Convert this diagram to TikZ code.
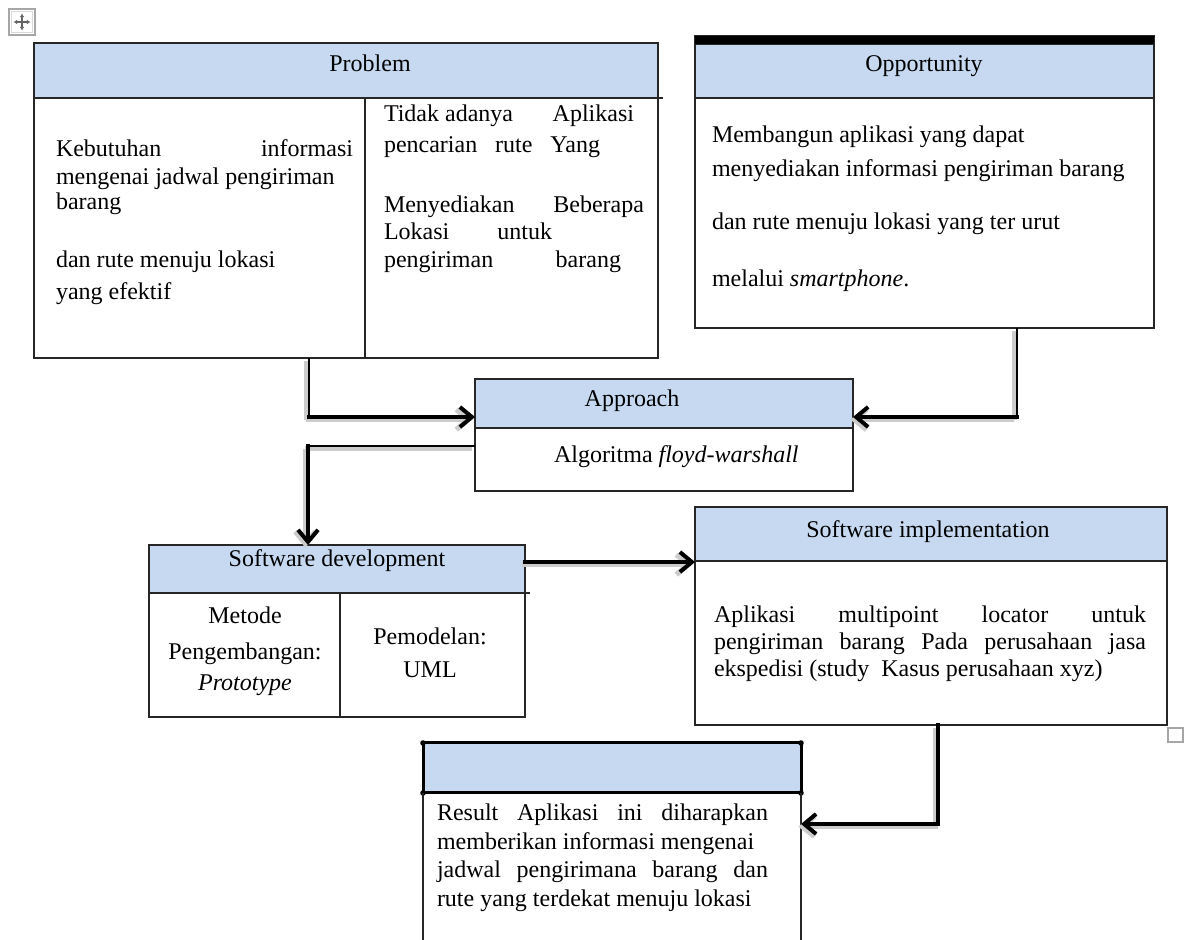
\documentclass[tikz,border=0pt]{standalone}
\usepackage{fontspec}
\setmainfont{Liberation Serif}
\usetikzlibrary{arrows.meta}
\definecolor{hdrblue}{RGB}{198,217,240}
\newcommand\pbox[6]{\node[#6, minimum width={(#4-#2)*0.5pt}, minimum height={(#5-#3)*0.5pt}] (#1) at ({(#2+#4)/2},{(#3+#5)/2}) {};}
\newcommand\jl[2]{\makebox[#1pt][s]{#2}}
\begin{document}
\begin{tikzpicture}[x=0.5pt,y=-0.5pt,
  every node/.style={inner sep=0pt, outer sep=0pt, font=\fontsize{12}{14}\selectfont},
  frame/.style={draw=black!85, line width=0.75pt, rectangle},
  hdr/.style={draw=black!85, line width=0.75pt, fill=hdrblue, rectangle},
  txt/.style={anchor=mid west},
  ctxt/.style={anchor=mid},
  ln/.style={draw=black!85, line width=0.75pt},
  thinln/.style={draw=black, line width=1pt},
  arr/.style={draw=black, line width=2pt, line cap=rect, -{Straight Barb[length=6pt,width=10pt]}},
  shad/.style={draw=black!20, line width=2.6pt, transform canvas={xshift=-1.3pt,yshift=-1.3pt}},
  shadarr/.style={shad, -{Straight Barb[length=6pt,width=10pt]}}]
\fill[white] (0,0) rectangle (1184,940);
\useasboundingbox (0,0) rectangle (1184,940);

% table handles
\pbox{mv}{9}{9}{35}{35}{draw=black!35, line width=0.8pt}
\draw[black!15, line width=0.6pt] ([xshift=1.2pt,yshift=-1.2pt]mv.north west) rectangle ([xshift=-1.2pt,yshift=1.2pt]mv.south east);
\draw[black!60, line width=0.6pt, {Latex[length=1.8pt,width=2.4pt]}-{Latex[length=1.8pt,width=2.4pt]}] ([xshift=-4.2pt]mv.center) -- ([xshift=4.2pt]mv.center);
\draw[black!60, line width=0.6pt, {Latex[length=1.8pt,width=2.4pt]}-{Latex[length=1.8pt,width=2.4pt]}] ([yshift=-4.2pt]mv.center) -- ([yshift=4.2pt]mv.center);
\pbox{rs}{1168}{728}{1183}{742}{draw=black!35, line width=0.6pt}

% Problem
\pbox{probh}{34}{43}{658}{98}{hdr}
\pbox{prob}{34}{43}{658}{358}{frame}
\coordinate (pdiv) at (365,0);
\draw[ln] (probh.south -| pdiv) -- (prob.south -| pdiv);
\draw[ln] (probh.south east) -- ++(5,0);
\node[ctxt] (tp) at (370,67) {Problem};
\node[txt] (pl1) at (56,152) {\jl{148.5}{Kebutuhan informasi}};
\node[txt] (pl2) at (56,180) {mengenai jadwal pengiriman};
\node[txt] (pl3) at (56,205) {barang};
\node[txt] (pl4) at (56,263) {dan rute menuju lokasi};
\node[txt] (pl5) at (56,295) {yang efektif};
\node[txt] (pr1) at (384,117) {\jl{125}{Tidak adanya\hfill Aplikasi}};
\node[txt] (pr2) at (384,148) {\jl{108}{pencarian rute Yang}};
\node[txt] (pr3) at (384,208) {\jl{130}{Menyediakan Beberapa}};
\node[txt] (pr4) at (384,235) {\jl{84}{Lokasi untuk}};
\node[txt] (pr5) at (384,263) {\jl{118.5}{pengiriman barang}};

% Opportunity
\pbox{opph}{695}{44}{1154}{98}{hdr}
\pbox{opp}{695}{36}{1154}{328}{frame}
\pbox{oppbar}{695}{36}{1154}{44}{fill=black}
\node[ctxt] (to) at (924,67) {Opportunity};
\node[txt] (o1) at (712,138) {Membangun aplikasi yang dapat};
\node[txt] (o2) at (712,172) {menyediakan informasi pengiriman barang};
\node[txt] (o3) at (712,225) {dan rute menuju lokasi yang ter urut};
\node[txt] (o4) at (712,282) {melalui \textit{smartphone}.};

% Approach
\pbox{apph}{475}{379}{853}{428}{hdr}
\pbox{app}{475}{379}{853}{491}{frame}
\node[ctxt] (ta) at (632,402) {Approach};
\node[txt] (ta2) at (554,458) {Algoritma \textit{floyd-warshall}};

% Software development
\pbox{sdh}{149}{545}{525}{593}{hdr}
\pbox{sd}{149}{545}{525}{717}{frame}
\coordinate (sdiv) at (340,0);
\draw[ln] (sdh.south -| sdiv) -- (sd.south -| sdiv);
\draw[ln] (sdh.south east) -- ++(5,0);
\node[ctxt] (tsd) at (337,562) {Software development};
\node[ctxt] (sd1) at (245,619) {Metode};
\node[ctxt] (sd2) at (245,655) {Pengembangan:};
\node[ctxt] (sd3) at (245,686) {\textit{Prototype}};
\node[ctxt] (sd4) at (430,640) {Pemodelan:};
\node[ctxt] (sd5) at (430,673) {UML};

% Software implementation
\pbox{sih}{695}{507}{1167}{561}{hdr}
\pbox{si}{695}{507}{1167}{725}{frame}
\node[ctxt] (tsi) at (928,533) {Software implementation};
\node[txt] (si1) at (714,618) {\jl{216}{Aplikasi multipoint locator untuk}};
\node[txt] (si2) at (714,645) {\jl{216}{pengiriman barang Pada perusahaan jasa}};
\node[txt] (si3) at (714,672) {ekspedisi (study\ \ Kasus perusahaan xyz)};

% Result
\pbox{res}{423}{743}{801}{940}{}
\pbox{resh}{423}{743}{801}{793}{hdr, draw=black, line width=1.5pt}
\foreach \a in {north west,north east,south west,south east}
  \fill (resh.\a) circle[radius=1.4pt];
\draw[ln] (resh.south west) -- (res.south west);
\draw[ln] (resh.south east) -- (res.south east);
\node[txt] (r1) at (437,816) {\jl{165.5}{Result Aplikasi ini diharapkan}};
\node[txt] (r2) at (437,845) {memberikan informasi mengenai};
\node[txt] (r3) at (437,873) {\jl{165.5}{jadwal pengirimana barang dan}};
\node[txt] (r4) at (437,902) {rute yang terdekat menuju lokasi};

% connectors
\coordinate (k1) at (309,417);
\coordinate (k2) at (1017,417);
\coordinate (k3) at (308,446);
\coordinate (k4) at (0,562);
\coordinate (k5) at (938,824);
% shadows
\draw[shad] (prob.south -| k1) -- (k1);
\draw[shadarr] (k1) -- (app.west |- k1);
\draw[shad] (opp.south -| k2) -- (k2);
\draw[shadarr] (k2) -- (app.east |- k2);
\draw[shad] (app.west |- k3) -- (k3);
\draw[shadarr] (k3) -- (sd.north -| k3);
\draw[shadarr] (sd.east |- k4) -- (si.west |- k4);
\draw[shadarr] (si.south -| k5) |- (res.east |- k5);
% lines
\draw[thinln] (prob.south -| k1) -- (k1);
\draw[arr] (k1) -- (app.west |- k1);
\draw[thinln] (opp.south -| k2) -- (k2);
\draw[arr] (k2) -- (app.east |- k2);
\draw[thinln] (app.west |- k3) -- (k3);
\draw[arr] (k3) -- (sd.north -| k3);
\draw[arr] (sd.east |- k4) -- (si.west |- k4);
\draw[arr] (si.south -| k5) |- (res.east |- k5);
\end{tikzpicture}
\end{document}
